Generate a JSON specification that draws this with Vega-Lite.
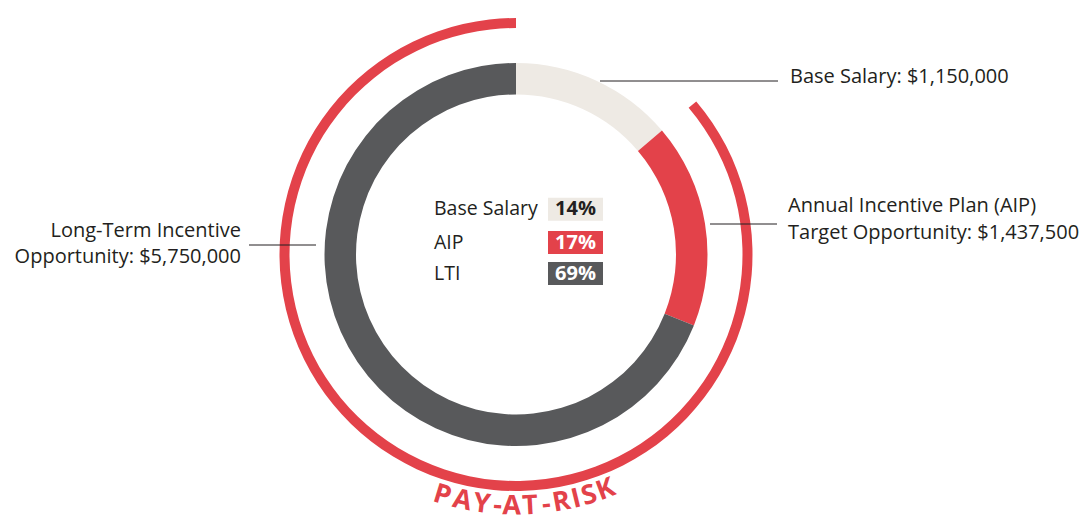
{
  "$schema": "https://vega.github.io/schema/vega-lite/v6.json",
  "width": 1032,
  "height": 509,
  "autosize": {"type": "none"},
  "padding": {"left": 0, "top": 0, "right": 56, "bottom": 11},
  "background": "white",
  "config": {"view": {"stroke": null}},
  "datasets": {
    "comp": [
      {"cat": "Base Salary", "value": 1150000, "order": 1},
      {"cat": "AIP", "value": 1437500, "order": 2},
      {"cat": "LTI", "value": 5750000, "order": 3}
    ],
    "risk": [{"from": 1150000, "to": 8337500}],
    "letters": [
      {"ch": "P", "deg": 197.0},
      {"ch": "A", "deg": 192.3},
      {"ch": "Y", "deg": 187.8},
      {"ch": "-", "deg": 184.2},
      {"ch": "A", "deg": 181.0},
      {"ch": "T", "deg": 176.8},
      {"ch": "-", "deg": 173.1},
      {"ch": "R", "deg": 169.6},
      {"ch": "I", "deg": 166.2},
      {"ch": "S", "deg": 163.1},
      {"ch": "K", "deg": 159.1}
    ],
    "legend": [
      {"cat": "Base Salary", "pct": "14%", "lx": -82, "px": 59.5, "bx": 32, "bx2": 87, "y": 45.5, "top": 56.8, "bottom": 33.8},
      {"cat": "AIP", "pct": "17%", "lx": -82, "px": 59.5, "bx": 32, "bx2": 87, "y": 12, "top": 23.5, "bottom": 0.5},
      {"cat": "LTI", "pct": "69%", "lx": -82, "px": 59.5, "bx": 32, "bx2": 87, "y": -19, "top": -7.5, "bottom": -30.5}
    ],
    "callouts": [
      {"x": 84, "x2": 262, "y": 173.5},
      {"x": 194, "x2": 261, "y": 30.5},
      {"x": -267, "x2": -200, "y": 9.5}
    ],
    "rightLabels": [
      {"text": "Base Salary: $1,150,000", "x": 274, "y": 177.5},
      {"text": "Annual Incentive Plan (AIP)", "x": 272, "y": 48.5},
      {"text": "Target Opportunity: $1,437,500", "x": 272, "y": 22}
    ],
    "leftLabels": [
      {"text": "Long-Term Incentive", "x": -275, "y": 24},
      {"text": "Opportunity: $5,750,000", "x": -275, "y": -2.5}
    ]
  },
  "resolve": {"scale": {"theta": "independent"}},
  "layer": [
    {
      "data": {"name": "comp"},
      "mark": {"type": "arc", "innerRadius": 160, "outerRadius": 191.5},
      "encoding": {
        "theta": {"field": "value", "type": "quantitative", "stack": true, "scale": {"domain": [0, 8337500]}},
        "color": {"field": "cat", "type": "nominal", "scale": {"domain": ["Base Salary", "AIP", "LTI"], "range": ["#EEEAE4", "#E3424A", "#58595B"]}, "legend": null},
        "order": {"field": "order", "type": "quantitative"}
      }
    },
    {
      "data": {"name": "risk"},
      "mark": {"type": "arc", "innerRadius": 226.5, "outerRadius": 236.5, "color": "#E3424A"},
      "encoding": {
        "theta": {"field": "from", "type": "quantitative", "scale": {"domain": [0, 8337500]}},
        "theta2": {"field": "to"}
      }
    },
    {
      "data": {"name": "letters"},
      "mark": {"type": "text", "radius": 252, "font": "Open Sans", "fontSize": 27, "fontWeight": "bold", "color": "#E3424A", "align": "center", "baseline": "middle"},
      "encoding": {
        "theta": {"field": "deg", "type": "quantitative", "scale": {"domain": [0, 360], "range": [0, 6.283185307179586]}},
        "angle": {"field": "deg", "type": "quantitative", "scale": {"domain": [0, 360], "range": [-180, 180]}},
        "text": {"field": "ch"}
      }
    },
    {
      "data": {"name": "legend"},
      "mark": {"type": "rect"},
      "encoding": {
        "x": {"field": "bx", "type": "quantitative", "scale": {"domain": [-516, 516], "nice": false, "zero": false}, "axis": null},
        "x2": {"field": "bx2"},
        "y": {"field": "top", "type": "quantitative", "scale": {"domain": [-254.5, 254.5], "nice": false, "zero": false}, "axis": null},
        "y2": {"field": "bottom"},
        "color": {"field": "cat", "type": "nominal", "legend": null}
      }
    },
    {
      "data": {"name": "legend"},
      "mark": {"type": "text", "align": "left", "baseline": "middle", "font": "Open Sans", "fontSize": 19.5, "color": "#231F20"},
      "encoding": {
        "x": {"field": "lx", "type": "quantitative", "axis": null},
        "y": {"field": "y", "type": "quantitative", "axis": null},
        "text": {"field": "cat"}
      }
    },
    {
      "data": {"name": "legend"},
      "mark": {"type": "text", "align": "center", "baseline": "middle", "font": "Open Sans", "fontSize": 20, "fontWeight": "bold"},
      "encoding": {
        "x": {"field": "px", "type": "quantitative", "axis": null},
        "y": {"field": "y", "type": "quantitative", "axis": null},
        "text": {"field": "pct"},
        "color": {"condition": {"test": "datum.cat === 'Base Salary'", "value": "#231F20"}, "value": "#FFFFFF"}
      }
    },
    {
      "data": {"name": "callouts"},
      "mark": {"type": "rule", "color": "#231F20", "strokeWidth": 1},
      "encoding": {
        "x": {"field": "x", "type": "quantitative", "axis": null},
        "x2": {"field": "x2"},
        "y": {"field": "y", "type": "quantitative", "axis": null}
      }
    },
    {
      "data": {"name": "rightLabels"},
      "mark": {"type": "text", "align": "left", "baseline": "middle", "font": "Open Sans", "fontSize": 20, "color": "#231F20"},
      "encoding": {
        "x": {"field": "x", "type": "quantitative", "axis": null},
        "y": {"field": "y", "type": "quantitative", "axis": null},
        "text": {"field": "text"}
      }
    },
    {
      "data": {"name": "leftLabels"},
      "mark": {"type": "text", "align": "right", "baseline": "middle", "font": "Open Sans", "fontSize": 20, "color": "#231F20"},
      "encoding": {
        "x": {"field": "x", "type": "quantitative", "axis": null},
        "y": {"field": "y", "type": "quantitative", "axis": null},
        "text": {"field": "text"}
      }
    }
  ]
}
